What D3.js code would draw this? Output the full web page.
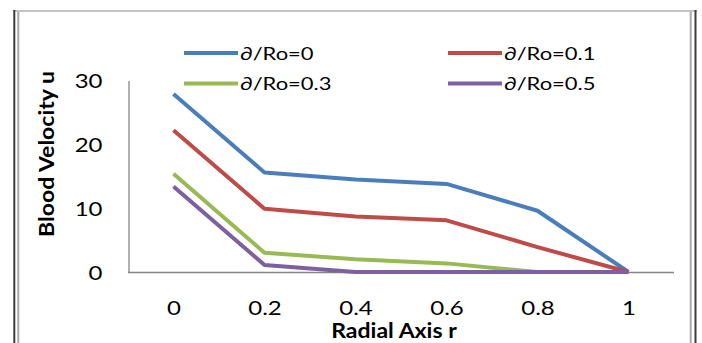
<!DOCTYPE html>
<html>
<head>
<meta charset="utf-8">
<script src="https://cdn.jsdelivr.net/npm/d3@7/dist/d3.min.js"></script>
<style>
  html, body { margin: 0; padding: 0; background: #fff; }
  svg text { font-family: Lato, "Open Sans", sans-serif; fill: #000; }
</style>
</head>
<body>
<svg id="chart" width="702" height="343"></svg>
<script>
// Radial positions (category axis) and velocity profiles
const radii = ["0", "0.2", "0.4", "0.6", "0.8", "1"];
const seriesNames = ["∂/Ro=0", "∂/Ro=0.1", "∂/Ro=0.3", "∂/Ro=0.5"];
const velRo0   = [27.9, 15.6, 14.5, 13.8, 9.6, 0];
const velRo01  = [22.2, 9.9, 8.7, 8.1, 3.9, 0];
const velRo03  = [15.4, 3.0, 2.0, 1.35, 0, 0];
const velRo05  = [13.4, 1.1, 0, 0, 0, 0];
const yTicks = [0, 10, 20, 30];
const colors = ["#4A7EBB", "#BE4B48", "#98B954", "#7D60A0"];

const allSeries = [velRo0, velRo01, velRo03, velRo05];

const svg = d3.select("#chart");

// outer frame
const frame = svg.append("g");
frame.append("line").attr("x1", 13).attr("x2", 697).attr("y1", 11).attr("y2", 11)
  .attr("stroke", "#c4c4c4").attr("stroke-width", 2);
frame.append("line").attr("x1", 14.3).attr("x2", 14.3).attr("y1", 10).attr("y2", 343)
  .attr("stroke", "#3c3c3c").attr("stroke-width", 2);
frame.append("line").attr("x1", 18.3).attr("x2", 18.3).attr("y1", 12).attr("y2", 343)
  .attr("stroke", "#a8a8a8").attr("stroke-width", 2);
frame.append("line").attr("x1", 690.7).attr("x2", 690.7).attr("y1", 12).attr("y2", 343)
  .attr("stroke", "#a8a8a8").attr("stroke-width", 2);
frame.append("line").attr("x1", 695.5).attr("x2", 695.5).attr("y1", 10).attr("y2", 343)
  .attr("stroke", "#3c3c3c").attr("stroke-width", 2);

const x = d3.scalePoint().domain(radii).range([128, 674]).padding(0.5);
const y = d3.scaleLinear().domain([0, 30]).range([272, 80.5]);

// stretch text horizontally by a factor
function stretch(sel, f) {
  sel.each(function () {
    const w = this.getComputedTextLength();
    d3.select(this).attr("textLength", w * f).attr("lengthAdjust", "spacingAndGlyphs");
  });
}

// y axis
const yAxis = svg.append("g").attr("transform", "translate(128.5,0)")
  .call(d3.axisLeft(y).tickValues(yTicks).tickSize(0).tickSizeOuter(0).tickPadding(26));
yAxis.select(".domain").attr("stroke", "#868686").attr("stroke-width", 1.3);
yAxis.selectAll("text").attr("font-size", 20).attr("dy", "0.36em")
  .style("font-family", "Lato, sans-serif").call(stretch, 1.2);

// x axis
const xAxis = svg.append("g").attr("transform", "translate(0,272.5)")
  .call(d3.axisBottom(x).tickSize(0).tickSizeOuter(0));
xAxis.select(".domain").attr("stroke", "#868686").attr("stroke-width", 1.3)
  .attr("d", "M128,0H674");
xAxis.selectAll("text").attr("font-size", 20).attr("y", 42.5).attr("dy", null)
  .style("font-family", "Lato, sans-serif").call(stretch, 1.2);

// series lines
const line = d3.line().x((d, i) => x(radii[i])).y(d => y(d));
svg.append("g").selectAll("path").data(allSeries).join("path")
  .attr("d", line).attr("fill", "none")
  .attr("stroke", (d, i) => colors[i]).attr("stroke-width", 4)
  .attr("stroke-linejoin", "round");

// legend
const legend = svg.append("g");
const legPos = [[184, 53], [448, 53], [184, 83.5], [448, 83.5]];
seriesNames.forEach((name, i) => {
  const [lx, ly] = legPos[i];
  legend.append("line").attr("x1", lx).attr("x2", lx + 54).attr("y1", ly).attr("y2", ly)
    .attr("stroke", colors[i]).attr("stroke-width", 4);
  legend.append("text").attr("x", lx + 56).attr("y", ly + 6.5)
    .attr("font-size", 18).text(name).call(stretch, 1.22);
});

// axis titles
svg.append("text").attr("x", 394).attr("y", 337.5).attr("text-anchor", "middle")
  .attr("font-size", 20).attr("font-weight", "bold").text("Radial Axis r").call(stretch, 1.15);
svg.append("text").attr("transform", "translate(54,154) rotate(-90)")
  .attr("text-anchor", "middle").attr("font-size", 20).attr("font-weight", "bold")
  .text("Blood Velocity u").call(stretch, 1.15);
</script>
</body>
</html>
